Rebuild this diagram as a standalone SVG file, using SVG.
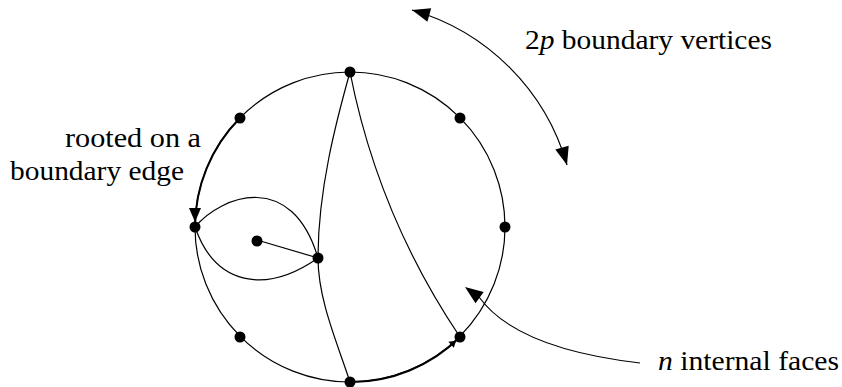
<svg xmlns="http://www.w3.org/2000/svg" width="842" height="387" viewBox="0 0 842 387">
<style>
  .ln { fill: none; stroke: #000; stroke-width: 1.2; }
  .thick { fill: none; stroke: #000; stroke-width: 2; }
  .dot { fill: #000; }
  .head { fill: #000; stroke: none; }
  .lbl { font-size: 27px; fill: #000; }
  .it { font-style: italic; }
</style>
<rect width="842" height="387" fill="#fff"/>
<g id="connectors">
  <circle class="ln" cx="350" cy="227" r="155"/>
  <path class="thick" d="M240,118 A155,155 0 0 0 195,227"/>
  <path class="thick" d="M350,382 A155,155 0 0 0 460,337"/>
  <path class="ln" d="M350,72 C336,122 318,190 318,258"/>
  <path class="ln" d="M318,258 C318,300 338,345 350,382"/>
  <path class="ln" d="M350,72 Q378,215 460,337"/>
  <path class="ln" d="M195,227 C222,195 292,170 318,258"/>
  <path class="ln" d="M195,227 C215,285 265,295 318,258"/>
  <path class="ln" d="M257,240 L318,258"/>
  <polygon class="head" points="195,222 189,208 201,208"/>
  <polygon class="head" points="456,340.7 448.4,341.8 453.8,347.7"/>
  <path class="ln" d="M412,10 A226,226 0 0 1 567,165"/>
  <polygon class="head" points="412,10 431.2,8.3 427.4,21.7"/>
  <polygon class="head" points="567,165 568.7,145.8 555.3,149.6"/>
  <path class="ln" d="M640,363 C580,356 510,340 479,297"/>
  <polygon class="head" points="465,287 483.7,291.9 475.5,303.3"/>
</g>
<g id="v-top"><circle class="dot" cx="350" cy="72" r="5.5"/></g>
<g id="v-tl"><circle class="dot" cx="240" cy="118" r="5.5"/></g>
<g id="v-tr"><circle class="dot" cx="460" cy="118" r="5.5"/></g>
<g id="v-r"><circle class="dot" cx="505" cy="227" r="5.5"/></g>
<g id="v-l"><circle class="dot" cx="195" cy="227" r="5.5"/></g>
<g id="v-bl"><circle class="dot" cx="240" cy="337" r="5.5"/></g>
<g id="v-br"><circle class="dot" cx="460" cy="337" r="5.5"/></g>
<g id="v-b"><circle class="dot" cx="350" cy="382" r="5.5"/></g>
<g id="v-in1"><circle class="dot" cx="257" cy="241" r="5.5"/></g>
<g id="v-in2"><circle class="dot" cx="318" cy="258" r="5.5"/></g>
<g id="labels" font-family="Liberation Serif, DejaVu Serif, serif">
  <text class="lbl" font-family="Liberation Serif, DejaVu Serif, serif" x="525" y="49" textLength="247" lengthAdjust="spacingAndGlyphs">2<tspan class="it">p</tspan> boundary vertices</text>
  <text class="lbl" font-family="Liberation Serif, DejaVu Serif, serif" x="65" y="147" textLength="136" lengthAdjust="spacingAndGlyphs">rooted on a</text>
  <text class="lbl" font-family="Liberation Serif, DejaVu Serif, serif" x="10" y="180" textLength="174" lengthAdjust="spacingAndGlyphs">boundary edge</text>
  <text class="lbl" font-family="Liberation Serif, DejaVu Serif, serif" x="658" y="370" textLength="181" lengthAdjust="spacingAndGlyphs"><tspan class="it">n</tspan> internal faces</text>
</g>
</svg>
